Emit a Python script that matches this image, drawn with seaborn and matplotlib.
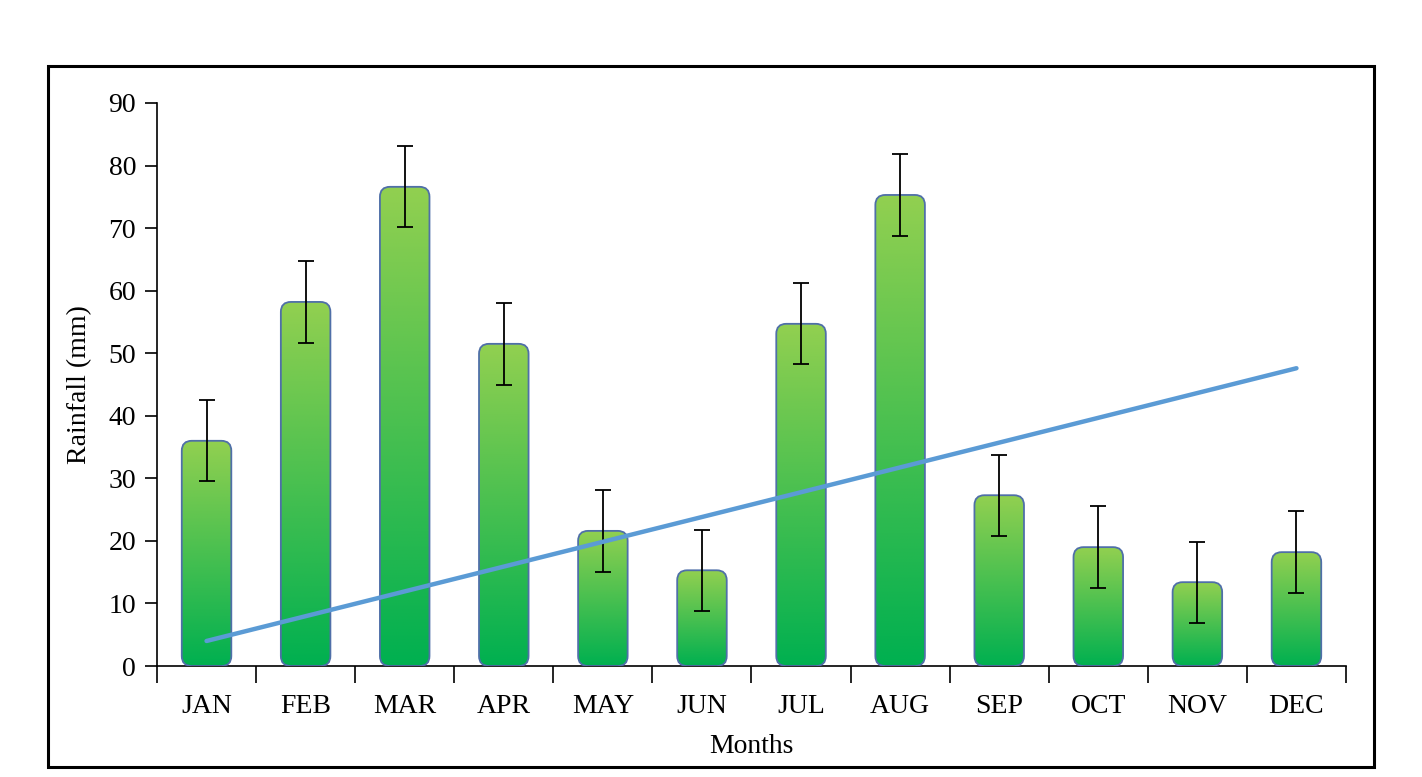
import numpy as np
import matplotlib
matplotlib.use("Agg")
import matplotlib.pyplot as plt
import seaborn as sns
import pandas as pd
from matplotlib.patches import FancyBboxPatch, Rectangle
from matplotlib.colors import LinearSegmentedColormap

months = ["JAN", "FEB", "MAR", "APR", "MAY", "JUN", "JUL", "AUG", "SEP", "OCT", "NOV", "DEC"]
rainfall = [36.0, 58.2, 76.6, 51.5, 21.6, 15.3, 54.7, 75.3, 27.3, 19.0, 13.4, 18.2]
errors = [6.5, 6.5, 6.5, 6.5, 6.5, 6.5, 6.5, 6.5, 6.5, 6.5, 6.5, 6.5]
trend_months = ["JAN", "DEC"]
trend_values = [4.0, 47.6]
yticks = [0, 10, 20, 30, 40, 50, 60, 70, 80, 90]

FS = 20

sns.set_theme(style="white")
plt.rcParams['font.family'] = ['Liberation Serif', 'DejaVu Serif']
plt.rcParams['font.size'] = FS
plt.rcParams['text.color'] = 'black'
plt.rcParams['axes.labelcolor'] = 'black'
plt.rcParams['xtick.color'] = 'black'
plt.rcParams['ytick.color'] = 'black'

W, H = 1422, 777
fig = plt.figure(figsize=(W / 100, H / 100), dpi=100)
ax = fig.add_axes([157 / W, 1 - 666 / H, (1346 - 157) / W, (666 - 103) / H])

df = pd.DataFrame({"Month": months, "Rainfall": rainfall})
sns.barplot(data=df, x="Month", y="Rainfall", order=months, width=0.5,
            color="#00B050", errorbar=None, ax=ax)

ax.set_xlim(-0.5, 11.5)
ax.set_ylim(0, 90)

cmap = LinearSegmentedColormap.from_list("g", ["#00B050", "#92D050"])
grad = np.linspace(0, 1, 256).reshape(-1, 1)

px_x = (1346 - 157) / 12.0
px_y = (666 - 103) / 90.0
r_px = 10
rx = r_px / px_x
ry = r_px / px_y

centers = []
tops = []
for p in list(ax.patches):
    x0, w, h = p.get_x(), p.get_width(), p.get_height()
    centers.append(x0 + w / 2)
    tops.append(h)
    p.set_visible(False)
    fb = FancyBboxPatch((x0, 0), w, h,
                        boxstyle=f"round,pad=0,rounding_size={rx}",
                        mutation_aspect=ry / rx,
                        facecolor="none", edgecolor="#4F6FA8", linewidth=1.3, zorder=3)
    ax.add_patch(fb)
    im = ax.imshow(grad, cmap=cmap, origin="lower", aspect="auto",
                   extent=(x0, x0 + w, 0, h), zorder=2, interpolation="bicubic")
    clip = FancyBboxPatch((x0, 0), w, h,
                          boxstyle=f"round,pad=0,rounding_size={rx}",
                          mutation_aspect=ry / rx, transform=ax.transData,
                          facecolor="none", edgecolor="none")
    ax.add_patch(clip)
    im.set_clip_path(clip)

ax.set_xlim(-0.5, 11.5)
ax.set_ylim(0, 90)

ax.errorbar(centers, tops, yerr=errors, fmt="none", ecolor="black",
            elinewidth=1.3, capsize=5.5, capthick=1.3, zorder=5)

trend_x = [months.index(m) for m in trend_months]
sns.lineplot(x=trend_x, y=trend_values, color="#5B9BD5", linewidth=3.2,
             ax=ax, zorder=6, solid_capstyle="round")

for s in ["top", "right"]:
    ax.spines[s].set_visible(False)
for s in ["left", "bottom"]:
    ax.spines[s].set_color("black")
    ax.spines[s].set_linewidth(1.2)

ax.set_yticks(yticks)
ax.set_yticklabels([str(v) for v in yticks])
ax.tick_params(axis="y", direction="out", length=9, width=1.2, color="black",
               labelsize=FS, pad=6, left=True, labelcolor="black")

ax.set_xticks(range(len(months)))
ax.set_xticklabels(months)
ax.tick_params(axis="x", which="major", length=0, labelsize=FS, pad=20,
               labelcolor="black")
ax.set_xticks(np.arange(-0.5, 12, 1.0), minor=True)
ax.tick_params(axis="x", which="minor", direction="out", length=12, width=1.2,
               color="black", bottom=True)

ax.set_xlabel("Months", fontsize=FS, labelpad=11, color="black")
ax.set_ylabel("Rainfall (mm)", fontsize=FS, labelpad=12, color="black")
ax.grid(False)

frame = Rectangle((48 / W, 1 - 767 / H), (1374 - 48) / W, (767 - 66) / H,
                  transform=fig.transFigure, fill=False, edgecolor="black",
                  linewidth=2.2, zorder=10)
fig.patches.append(frame)

fig.savefig("out.png", dpi=100)
